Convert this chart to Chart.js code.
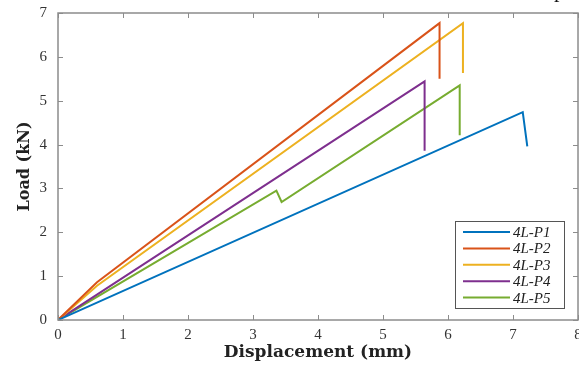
<!DOCTYPE html>
<html>
<head>
<meta charset="utf-8">
<script src="https://cdn.jsdelivr.net/npm/chart.js@4"></script>
<style>
  html, body { margin: 0; padding: 0; background: #fff; overflow: hidden; }
  #wrap { position: relative; width: 579px; height: 367px; }
  #cut { position: absolute; left: 554px; top: -23px; font: 22px "Liberation Serif", serif; color: #111; }
</style>
</head>
<body>
<div id="wrap">
  <canvas id="chart" width="579" height="367"></canvas>
  <div id="cut">p</div>
</div>
<script>
// values
const seriesNames = ['4L-P1', '4L-P2', '4L-P3', '4L-P4', '4L-P5'];
const seriesColors = ['#0072BD', '#D95319', '#EDB120', '#7E2F8E', '#77AC30'];

const p1Disp = [0, 7.15, 7.22];
const p1Load = [0, 4.74, 3.96];
const p2Disp = [0, 0.6, 5.87, 5.87];
const p2Load = [0, 0.86, 6.77, 5.50];
const p3Disp = [0, 0.6, 6.23, 6.23];
const p3Load = [0, 0.78, 6.77, 5.63];
const p4Disp = [0, 5.64, 5.64];
const p4Load = [0, 5.44, 3.86];
const p5Disp = [0, 3.36, 3.44, 6.18, 6.18];
const p5Load = [0, 2.95, 2.69, 5.35, 4.21];

const xTicks = [0, 1, 2, 3, 4, 5, 6, 7, 8];
const yTicks = [0, 1, 2, 3, 4, 5, 6, 7];

const allDisp = [p1Disp, p2Disp, p3Disp, p4Disp, p5Disp];
const allLoad = [p1Load, p2Load, p3Load, p4Load, p5Load];

function toPoints(xs, ys) {
    return xs.map((x, i) => ({ x: x, y: ys[i] }));
}

const serif = '"Liberation Serif", "Times New Roman", serif';
const wideSerif = '"DejaVu Serif", serif';
const axisGray = '#8c8c8c';

// box around plot + inward ticks on all four sides
const frameTicks = {
    id: 'frameTicks',
    afterDatasetsDraw(chart) {
        const ctx = chart.ctx;
        const a = chart.chartArea;
        const xs = chart.scales.x, ys = chart.scales.y;
        ctx.save();
        ctx.strokeStyle = axisGray;
        ctx.lineWidth = 1.5;
        ctx.strokeRect(a.left, a.top, a.right - a.left, a.bottom - a.top);
        ctx.lineWidth = 1;
        ctx.beginPath();
        xTicks.forEach(v => {
            const px = Math.round(xs.getPixelForValue(v)) + 0.5;
            ctx.moveTo(px, a.bottom); ctx.lineTo(px, a.bottom - 5);
            ctx.moveTo(px, a.top); ctx.lineTo(px, a.top + 5);
        });
        yTicks.forEach(v => {
            const py = Math.round(ys.getPixelForValue(v)) + 0.5;
            ctx.moveTo(a.left, py); ctx.lineTo(a.left + 5, py);
            ctx.moveTo(a.right, py); ctx.lineTo(a.right - 5, py);
        });
        ctx.stroke();
        ctx.restore();
    }
};

// legend box inside the lower right of the plot
const boxLegend = {
    id: 'boxLegend',
    afterDraw(chart) {
        const ctx = chart.ctx;
        const left = 455, top = 221, w = 109, h = 87;
        ctx.save();
        ctx.fillStyle = '#fff';
        ctx.fillRect(left, top, w, h);
        ctx.strokeStyle = '#555';
        ctx.lineWidth = 1;
        ctx.strokeRect(left + 0.5, top + 0.5, w, h);
        ctx.font = 'italic 15px ' + serif;
        ctx.textBaseline = 'middle';
        chart.data.datasets.forEach((ds, i) => {
            const y = top + 11 + i * 16.4;
            ctx.strokeStyle = ds.borderColor;
            ctx.lineWidth = 2;
            ctx.beginPath();
            ctx.moveTo(left + 8, y); ctx.lineTo(left + 55, y);
            ctx.stroke();
            ctx.fillStyle = '#222';
            ctx.fillText(ds.label, left + 58, y + 1);
        });
        ctx.restore();
    }
};

new Chart(document.getElementById('chart'), {
    type: 'scatter',
    data: {
        datasets: seriesNames.map((name, i) => ({
            label: name,
            data: toPoints(allDisp[i], allLoad[i]),
            showLine: true,
            borderColor: seriesColors[i],
            backgroundColor: seriesColors[i],
            borderWidth: 2,
            pointRadius: 0,
            tension: 0
        }))
    },
    options: {
        responsive: false,
        animation: false,
        layout: { padding: { top: 13, right: 1, left: 0, bottom: 0 } },
        plugins: { legend: { display: false }, tooltip: { enabled: false } },
        scales: {
            x: {
                type: 'linear', min: 0, max: 8,
                afterFit(s) { s.height = 47; s.paddingLeft = 0; s.paddingRight = 0; },
                afterBuildTicks(s) { s.ticks = xTicks.map(v => ({ value: v })); },
                grid: { display: false, drawTicks: false },
                border: { display: false },
                ticks: { color: '#333', font: { family: serif, size: 15 }, padding: 6, maxRotation: 0 },
                title: { display: true, text: 'Displacement (mm)', color: '#222', font: { family: wideSerif, size: 17, weight: 'bold' }, padding: { top: 2 } }
            },
            y: {
                type: 'linear', min: 0, max: 7,
                afterFit(s) { s.width = 58; s.paddingTop = 0; s.paddingBottom = 0; },
                afterBuildTicks(s) { s.ticks = yTicks.map(v => ({ value: v })); },
                grid: { display: false, drawTicks: false },
                border: { display: false },
                ticks: { color: '#333', font: { family: serif, size: 15 }, padding: 11 },
                title: { display: true, text: 'Load (kN)', color: '#222', font: { family: wideSerif, size: 16, weight: 'bold' }, padding: { top: 15, bottom: 0 } }
            }
        }
    },
    plugins: [frameTicks, boxLegend]
});
</script>
</body>
</html>
